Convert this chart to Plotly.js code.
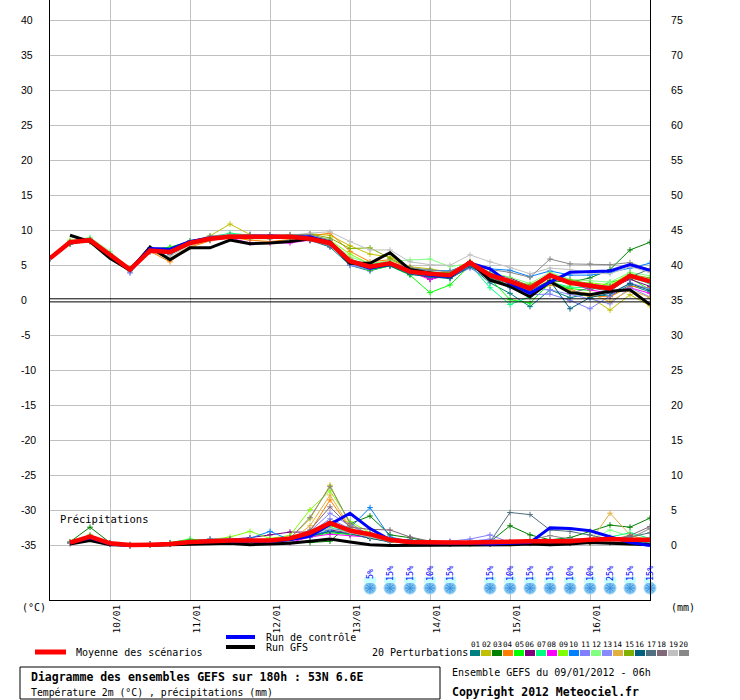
<!DOCTYPE html>
<html>
<head>
<meta charset="utf-8">
<script src="https://cdn.plot.ly/plotly-3.0.1.min.js"></script>
<style>html,body{margin:0;padding:0;background:#fff;}#chart{width:740px;height:700px;}</style>
</head>
<body>
<div id="chart"></div>
<script>
// ---- time axis: 6-hourly steps from 09/01/2012 06h (hours since start) ----
const hours = [0,6,12,18,24,30,36,42,48,54,60,66,72,78,84,90,96,102,108,114,120,126,132,138,144,150,156,162,168,174,180];
const dayTickHours = [18,42,66,90,114,138,162];
const dayTickLabels = ['10/01','11/01','12/01','13/01','14/01','15/01','16/01'];
const leftTicks = [40,35,30,25,20,15,10,5,0,-5,-10,-15,-20,-25,-30,-35];
const rightTicks = [0,5,10,15,20,25,30,35,40,45,50,55,60,65,70,75];

// ---- temperature 2m (°C) ----
const tempMean = [6.0,8.3,8.6,6.5,4.4,7.1,6.9,8.2,8.8,9.1,9.1,9.1,9.1,8.8,8.2,5.6,4.8,5.3,4.1,3.8,3.6,5.4,3.6,2.7,1.7,3.6,2.5,2.1,1.7,3.5,2.7];
const tempControl = [6.0,8.3,8.6,6.5,4.4,7.4,7.3,8.4,8.9,9.1,9.2,9.2,9.1,9.1,8.3,5.6,4.6,5.2,4.2,3.6,3.4,5.3,4.5,2.4,1.0,2.6,4.0,4.1,4.2,5.1,4.3];
const tempGFS = [null,9.3,8.4,6.0,4.3,7.6,5.8,7.5,7.5,8.6,8.1,8.2,8.4,8.8,8.3,5.3,5.3,6.8,4.4,3.9,3.4,5.5,2.9,2.0,0.5,2.7,1.1,0.8,1.3,1.5,-0.6];
const t01 = [6.0,8.0,8.5,6.6,4.3,7.2,6.8,8.3,8.7,9.0,9.2,9.0,9.3,8.6,7.6,5.0,4.2,5.0,3.8,3.3,3.2,4.9,2.5,1.0,-0.9,1.5,0.4,0.9,0.6,2.2,1.2];
const t02 = [6.0,8.4,8.7,6.4,4.5,7.0,7.0,8.3,9.2,10.9,9.4,9.2,9.0,9.5,9.3,7.8,6.6,6.2,4.8,4.5,4.0,5.6,3.8,2.9,1.2,3.0,1.3,0.5,-1.4,0.8,-0.8];
const t03 = [6.0,8.2,8.4,6.3,4.4,7.4,7.5,8.5,9.0,9.2,9.0,9.3,9.2,9.0,8.6,5.4,4.5,5.2,4.2,4.0,3.9,5.2,3.0,2.2,1.0,2.8,2.6,3.2,4.4,7.2,8.3];
const t04 = [6.0,8.3,8.5,6.4,4.3,7.0,5.5,7.6,8.5,9.0,8.6,8.4,8.7,9.2,9.6,7.0,5.5,5.8,4.6,3.8,3.4,5.0,3.2,2.0,0.8,2.2,1.6,0.6,0.5,2.0,1.8];
const t05 = [6.0,8.1,8.7,6.7,4.2,7.2,7.6,8.4,9.0,9.3,9.2,9.1,9.0,8.9,8.0,5.2,4.3,4.9,3.6,1.1,2.2,5.0,3.1,0.1,-0.4,2.5,1.7,1.4,2.6,3.2,1.5];
const t06 = [6.0,8.3,8.6,6.5,4.4,7.0,6.8,8.0,8.7,9.1,8.9,8.8,9.1,8.6,8.0,5.3,4.6,5.0,4.4,3.0,3.7,5.2,3.9,3.2,2.0,3.4,2.4,2.0,1.8,3.0,2.0];
const t07 = [6.0,8.2,8.9,6.6,4.5,7.3,7.2,8.4,9.0,9.6,9.3,9.2,9.0,9.0,8.4,5.9,5.0,5.4,4.3,4.1,3.8,5.1,1.8,-0.6,0.5,2.6,1.9,1.8,2.0,3.3,2.4];
const t08 = [6.0,8.2,8.6,6.4,4.4,7.0,6.9,8.2,8.6,8.9,8.2,8.2,8.2,8.6,7.8,5.5,4.4,5.1,4.0,3.0,3.6,5.5,3.6,2.5,1.8,3.4,2.6,1.5,1.0,1.8,1.0];
const t09 = [6.0,8.6,8.4,6.4,4.6,7.1,7.4,8.3,8.9,9.2,9.0,9.1,9.3,9.4,8.6,6.6,5.2,5.6,4.2,3.9,3.8,5.3,3.4,2.8,1.9,3.6,2.2,2.5,2.2,3.9,2.8];
const t10 = [6.0,8.3,8.5,6.4,4.4,7.1,7.0,8.1,8.8,9.1,9.4,9.0,9.1,8.8,8.2,5.7,4.9,5.2,4.5,4.3,4.2,5.3,4.5,4.3,3.4,4.2,3.6,3.6,4.0,4.6,5.3];
const t11 = [6.0,8.3,8.7,6.6,3.9,7.0,7.2,8.2,8.8,9.3,9.0,9.2,9.0,8.8,8.0,5.1,4.6,5.0,4.0,3.6,3.3,4.6,3.0,1.8,0.8,0.9,0.0,-1.2,0.6,2.5,1.6];
const t12 = [6.0,8.5,9.0,7.0,4.5,7.2,7.0,8.4,9.0,9.2,9.3,9.1,9.2,9.0,8.5,6.2,5.3,5.6,5.8,5.9,4.8,5.3,4.0,3.3,2.4,4.0,3.0,2.8,2.6,4.0,3.5];
const t13 = [6.0,8.2,8.6,6.5,4.0,7.1,6.8,8.1,8.6,9.0,9.2,9.0,9.1,8.7,8.1,5.0,4.4,5.1,3.9,3.6,3.3,5.0,3.0,2.0,1.6,1.5,0.9,0.2,-0.5,1.8,0.5];
const t14 = [6.0,8.3,8.4,6.4,4.4,6.9,6.0,7.8,8.6,9.0,8.8,8.8,9.0,9.0,8.4,6.0,4.6,5.1,4.2,3.8,3.5,5.2,3.3,2.1,0.9,2.6,1.3,1.0,-0.2,1.5,0.4];
const t15 = [6.0,8.4,8.6,6.4,4.4,7.1,7.0,8.3,8.9,9.2,9.0,9.1,9.2,9.5,8.9,7.4,7.5,6.0,4.6,4.0,3.9,5.2,3.7,2.9,2.2,3.7,2.9,2.4,1.6,3.7,3.2];
const t16 = [6.0,8.2,8.5,6.5,4.3,7.0,6.7,8.1,8.7,9.0,9.1,9.0,9.0,8.7,7.9,5.3,4.5,4.9,3.7,3.4,3.1,4.8,3.5,1.9,1.4,2.8,-1.2,0.4,1.0,2.4,1.4];
const t17 = [6.0,8.3,8.6,6.5,4.5,7.5,6.5,8.0,8.8,9.1,9.1,9.3,9.2,8.8,8.1,5.5,4.7,5.3,4.0,3.5,3.5,5.1,3.2,2.4,1.1,2.7,1.0,1.8,1.3,3.3,4.5];
const t18 = [6.0,8.1,8.5,6.6,4.3,7.4,6.6,8.0,8.9,9.0,9.2,9.1,9.0,8.5,7.8,5.3,4.6,5.2,4.2,3.7,3.6,5.4,3.8,2.8,1.8,3.3,2.4,2.3,2.0,3.6,2.6];
const t19 = [6.0,8.3,8.6,6.5,4.4,7.0,6.3,7.9,8.8,9.2,9.1,9.2,9.3,9.6,9.8,8.4,7.2,7.2,5.5,5.1,5.0,6.5,5.5,4.7,3.8,4.6,4.4,3.9,3.8,4.8,4.0];
const t20 = [6.0,8.2,8.7,6.6,4.3,7.4,7.0,8.4,9.2,9.4,9.4,9.3,9.4,9.4,8.6,5.8,5.1,5.4,4.7,4.3,4.1,5.5,4.4,4.0,3.3,5.9,5.2,5.2,5.1,5.4,4.4];

// ---- precipitation (mm, right axis) ----
const precMean = [null,0.4,1.25,0.3,0.05,0.1,0.2,0.5,0.65,0.7,0.7,0.7,1.0,1.8,3.2,2.1,1.6,0.8,0.5,0.4,0.4,0.4,0.5,0.5,0.6,0.6,0.6,0.8,0.9,0.8,0.8];
const precControl = [null,0.4,1.1,0.2,0,0.1,0.2,0.5,0.6,0.6,0.6,0.6,0.8,1.3,3.0,4.6,2.4,0.8,0.4,0.3,0.3,0.3,0.2,0.3,0.4,2.5,2.4,2.1,1.2,0.4,0.0];
const precGFS = [null,0.2,0.7,0.1,0,0,0.1,0.2,0.2,0.3,0.1,0.2,0.3,0.6,0.9,0.5,0.1,0,0,0,0,0,0,0.1,0.2,0.1,0.2,0.4,0.3,0.2,0.1];
const r01 = [null,0.3,1.0,0.2,0,0.1,0.2,0.4,0.5,0.6,0.5,0.6,0.8,1.2,2.0,1.6,1.0,0.5,0.3,0.2,0.3,0.2,0.3,0.4,0.5,0.3,0.4,0.8,0.6,0.4,0.3];
const r02 = [null,0.4,1.4,0.3,0,0.1,0.2,0.4,0.6,0.7,0.7,0.6,1.0,3.8,8.6,3.0,1.2,0.6,0.3,0.3,0.2,0.3,0.3,0.2,0.4,0.3,0.5,0.4,0.8,0.6,0.4];
const r03 = [null,0.5,2.6,0.4,0.1,0.2,0.3,0.6,0.9,0.9,0.8,0.7,0.5,0.4,0.6,3.1,4.2,1.5,1.1,0.5,0.4,0.4,0.5,2.8,1.5,0.8,1.1,2.0,2.9,2.6,3.9];
const r04 = [null,0.3,1.1,0.3,0,0.1,0.2,0.3,0.4,0.4,0.3,0.3,0.6,2.0,6.5,2.5,1.4,0.6,0.2,0.2,0.2,0.3,0.2,0.3,0.3,0.4,0.3,0.3,0.5,0.4,0.3];
const r05 = [null,0.4,1.3,0.3,0,0.1,0.4,0.9,0.6,0.7,0.8,0.6,0.9,1.2,1.8,1.5,1.3,0.8,0.5,0.4,0.5,0.4,0.3,0.4,0.4,0.5,0.4,0.6,0.7,0.8,0.7];
const r06 = [null,0.3,1.2,0.2,0,0.1,0.2,0.5,0.7,0.8,1.1,1.5,1.9,1.9,2.2,1.8,1.2,0.7,0.5,0.4,0.3,0.4,0.3,0.4,0.4,0.3,0.5,0.6,0.5,0.7,0.6];
const r07 = [null,0.4,1.3,0.3,0.1,0.1,0.2,0.5,0.6,0.7,0.6,0.7,1.0,1.4,2.5,1.9,1.6,0.9,0.4,0.4,0.3,0.3,0.4,0.5,0.6,0.5,0.7,0.8,1.2,1.8,1.0];
const r08 = [null,0.3,1.1,0.3,0,0.1,0.2,0.4,0.5,0.6,0.5,0.3,0.4,1.2,1.6,1.4,1.1,0.9,0.7,0.5,0.3,0.3,0.4,0.4,0.3,0.4,0.5,0.5,0.6,0.7,0.5];
const r09 = [null,0.4,1.2,0.3,0.1,0.1,0.3,0.6,0.8,1.2,2.0,1.0,1.4,5.1,7.8,3.4,1.8,0.8,0.6,0.5,0.4,0.3,0.3,0.5,0.6,0.4,0.6,0.5,0.7,0.8,0.6];
const r10 = [null,0.3,1.2,0.3,0,0.2,0.3,0.5,0.7,0.9,1.0,2.0,0.8,1.3,2.2,2.5,5.4,1.2,0.6,0.4,0.3,0.4,0.3,0.4,0.5,0.6,0.5,0.6,0.9,0.8,0.7];
const r11 = [null,0.3,1.1,0.2,0,0.1,0.3,0.5,0.8,0.9,0.8,0.6,0.9,2.0,4.6,2.8,1.6,0.9,0.5,0.4,0.6,0.9,1.5,0.4,0.5,0.8,0.7,0.9,0.7,0.8,1.0];
const r12 = [null,0.4,1.3,0.3,0.1,0.1,0.2,0.4,0.5,0.6,0.6,0.5,0.8,1.5,3.0,2.2,1.3,0.7,0.4,0.3,0.4,0.3,0.3,0.4,0.4,0.5,0.6,0.8,2.2,1.3,0.9];
const r13 = [null,0.3,1.2,0.3,0,0.1,0.3,0.6,0.9,0.9,0.7,0.6,1.0,1.8,3.8,2.4,1.4,0.8,0.5,0.4,0.5,0.6,0.9,0.4,0.3,0.6,0.5,0.7,0.8,0.6,0.8];
const r14 = [null,0.4,1.1,0.2,0,0.1,0.1,0.3,0.4,0.5,0.3,0.3,0.6,2.8,7.2,2.6,1.1,0.5,0.3,0.2,0.2,0.3,0.3,0.3,0.3,0.4,0.3,0.5,4.6,1.5,0.6];
const r15 = [null,0.4,1.5,0.3,0,0.1,0.2,0.4,0.6,0.7,0.6,0.6,0.9,1.6,2.8,2.0,1.2,0.7,0.4,0.3,0.3,0.3,0.4,0.4,0.5,0.6,0.5,0.7,0.6,0.9,0.7];
const r16 = [null,0.3,1.1,0.2,0,0.1,0.2,0.4,0.5,0.6,0.5,0.5,0.7,1.4,2.0,1.7,1.0,0.5,0.8,0.4,0.2,0.3,0.2,0.3,0.4,0.3,0.3,0.4,0.4,0.5,0.4];
const r17 = [null,0.4,1.2,0.3,0,0.1,0.2,0.5,0.6,0.7,0.7,0.6,1.1,1.9,3.4,2.3,1.5,0.9,0.5,0.3,0.3,0.4,0.5,4.7,4.4,2.2,2.0,1.5,0.9,1.2,1.8];
const r18 = [null,0.4,1.2,0.3,0.1,0.1,0.3,0.5,0.7,0.8,0.7,0.7,1.0,2.2,5.5,2.6,2.3,2.2,1.2,0.6,0.4,0.4,0.4,0.5,0.6,0.7,0.8,1.0,0.8,1.4,2.7];
const r19 = [null,0.3,1.1,0.2,0,0.1,0.2,0.4,0.5,0.6,0.6,0.5,0.8,1.4,2.4,1.8,1.2,0.6,0.4,0.3,0.3,0.3,0.3,0.4,0.5,0.4,0.5,0.6,0.5,0.6,0.5];
const r20 = [null,0.3,1.2,0.3,0,0.1,0.2,0.5,0.6,0.7,0.7,0.6,1.0,4.0,8.4,3.2,1.4,0.7,0.4,0.3,0.3,0.3,0.3,0.4,0.8,1.4,0.9,0.8,0.7,1.0,2.4];

// ---- snow probability ----
const snowHours = [96,102,108,114,120,132,138,144,150,156,162,168,174,180];
const snowPct = [5,15,15,10,15,15,10,15,15,10,10,25,15,15];

const pertNames = ['01','02','03','04','05','06','07','08','09','10','11','12','13','14','15','16','17','18','19','20'];
const pertColors = ['#008080','#C0C000','#008000','#FF8000','#00FF00','#800080','#00FF80','#FF00FF','#80FF00','#0080FF','#8080FF','#80FF80','#8888FF','#E0B040','#80B000','#006080','#507080','#806878','#C0C0C0','#888888'];
const tempPert = [t01,t02,t03,t04,t05,t06,t07,t08,t09,t10,t11,t12,t13,t14,t15,t16,t17,t18,t19,t20];
const precPert = [r01,r02,r03,r04,r05,r06,r07,r08,r09,r10,r11,r12,r13,r14,r15,r16,r17,r18,r19,r20];

// pixel helpers (plot area 50..650 x 0..600)
const px = x => (x - 50) / 600;
const py = y => (600 - y) / 600;
const MONO = 'DejaVu Sans Mono';

const traces = [];
tempPert.forEach((arr, i) => {
  traces.push({x: hours, y: arr, type: 'scatter', mode: 'lines+markers', yaxis: 'y',
    line: {color: pertColors[i], width: 1},
    marker: {symbol: 'cross-thin-open', size: 4, color: pertColors[i], line: {color: pertColors[i], width: 1}},
    hoverinfo: 'skip', name: 'P' + pertNames[i]});
});
precPert.forEach((arr, i) => {
  traces.push({x: hours, y: arr, type: 'scatter', mode: 'lines+markers', yaxis: 'y2',
    line: {color: pertColors[i], width: 1},
    marker: {symbol: 'cross-thin-open', size: 4, color: pertColors[i], line: {color: pertColors[i], width: 1}},
    hoverinfo: 'skip', name: 'R' + pertNames[i]});
});
[[tempGFS, precGFS, '#000000', 3], [tempControl, precControl, '#0000FF', 3], [tempMean, precMean, '#FF0000', 4.5]].forEach(s => {
  traces.push({x: hours, y: s[0], type: 'scatter', mode: 'lines', yaxis: 'y', line: {color: s[2], width: s[3]}, hoverinfo: 'skip'});
  traces.push({x: hours, y: s[1], type: 'scatter', mode: 'lines', yaxis: 'y2', line: {color: s[2], width: s[3]}, hoverinfo: 'skip'});
});
// snow icons
const snowY = snowHours.map(() => -41.1);
traces.push({x: snowHours, y: snowY, type: 'scatter', mode: 'markers', yaxis: 'y', cliponaxis: false,
  marker: {symbol: 'circle', size: 12, color: '#7CC4F0', line: {color: '#9BD3F5', width: 1}}, hoverinfo: 'skip'});
traces.push({x: snowHours, y: snowY, type: 'scatter', mode: 'markers', yaxis: 'y', cliponaxis: false,
  marker: {symbol: 'asterisk-open', size: 8, color: '#3C8EE0', line: {color: '#3C8EE0', width: 1}}, hoverinfo: 'skip'});

const shapes = [
  {type: 'line', xref: 'paper', x0: 0, x1: 1, yref: 'y', y0: 0.22, y1: 0.22, line: {color: '#000', width: 1}},
  {type: 'line', xref: 'paper', x0: 0, x1: 1, yref: 'y', y0: -0.22, y1: -0.22, line: {color: '#000', width: 1}},
  // legend lines
  {type: 'line', xref: 'paper', yref: 'paper', x0: px(35), x1: px(66), y0: py(652), y1: py(652), line: {color: '#FF0000', width: 5}},
  {type: 'line', xref: 'paper', yref: 'paper', x0: px(226), x1: px(255), y0: py(637), y1: py(637), line: {color: '#0000FF', width: 4}},
  {type: 'line', xref: 'paper', yref: 'paper', x0: px(226), x1: px(255), y0: py(647), y1: py(647), line: {color: '#000000', width: 4}},
  // title box
  {type: 'rect', xref: 'paper', yref: 'paper', x0: px(20), x1: px(440), y0: py(667), y1: py(699), line: {color: '#000', width: 1}}
];
pertColors.forEach((c, i) => {
  const x0 = 470 + 11 * i;
  shapes.push({type: 'rect', xref: 'paper', yref: 'paper', x0: px(x0), x1: px(x0 + 10), y0: py(656), y1: py(650), line: {width: 0}, fillcolor: c});
});
snowHours.forEach(h => {
  shapes.push({type: 'rect', xref: 'x', yref: 'paper', x0: h - 1.8, x1: h + 1.8, y0: py(583), y1: py(577), line: {width: 0}, fillcolor: '#C8FFFF'});
});

const ann = [];
const addText = (x, y, text, size, opts) => ann.push(Object.assign({xref: 'paper', yref: 'paper', x: px(x), y: py(y), text: text, showarrow: false,
  xanchor: 'left', yanchor: 'middle', font: {family: MONO, size: size, color: '#000'}}, opts || {}));
leftTicks.forEach(v => ann.push({xref: 'paper', yref: 'y', x: px(19), y: v, text: String(v), showarrow: false, xanchor: 'left', yanchor: 'middle',
  font: {family: 'Liberation Sans', size: 10.5, color: '#000'}}));
addText(20, 607, '(°C)', 10);
addText(669, 607, '(mm)', 10);
addText(58, 519, 'Précipitations', 10.5);
addText(74, 652, 'Moyenne des scénarios', 10);
addText(264, 637, 'Run de contrôle', 10);
addText(264, 647, 'Run GFS', 10);
addText(370, 652, '20 Perturbations', 10);
pertNames.forEach((n, i) => addText(470 + 11 * i + 5, 644, n, 7.5, {xanchor: 'center'}));
addText(29, 677, '<b>Diagramme des ensembles GEFS sur 180h : 53N 6.6E</b>', 11.5);
addText(29, 692, 'Température 2m (°C) , précipitations (mm)', 9.8);
addText(450, 672, 'Ensemble GEFS du 09/01/2012 - 06h', 10);
addText(450, 692, '<b>Copyright 2012 Meteociel.fr</b>', 11.5);
snowHours.forEach((h, i) => ann.push({xref: 'x', yref: 'paper', x: h, y: py(574), text: snowPct[i] + '%', textangle: -90, showarrow: false,
  xanchor: 'center', yanchor: 'middle', font: {family: MONO, size: 8.5, color: '#0000FF'}}));

const gridVals = leftTicks.filter(v => v !== 0);
const layout = {
  width: 740, height: 700,
  margin: {l: 50, r: 90, t: 0, b: 100, pad: 0},
  paper_bgcolor: '#fff', plot_bgcolor: '#fff',
  showlegend: false,
  xaxis: {type: 'linear', range: [0, 180], tickmode: 'array', tickvals: dayTickHours, ticktext: dayTickLabels,
    tickangle: -90, ticklabelshift: 7, ticks: '', showgrid: true, gridcolor: '#C0C0C0', gridwidth: 1,
    showline: true, linecolor: '#000', linewidth: 1, zeroline: false, fixedrange: true,
    tickfont: {family: MONO, size: 9.5, color: '#000'}},
  yaxis: {range: [-42.8, 42.9], tickmode: 'array', tickvals: gridVals, showticklabels: false, ticks: '',
    showgrid: true, gridcolor: '#C0C0C0', gridwidth: 1, showline: true, linecolor: '#000', linewidth: 1, zeroline: false},
  yaxis2: {range: [-7.8, 77.9], overlaying: 'y', side: 'right', tickmode: 'array', tickvals: rightTicks, ticks: '',
    ticklabelstandoff: 18, showgrid: false, showline: true, linecolor: '#000', linewidth: 1, zeroline: false,
    tickfont: {family: 'Liberation Sans', size: 10.5, color: '#000'}},
  shapes: shapes,
  annotations: ann
};
Plotly.newPlot('chart', traces, layout, {staticPlot: true, displayModeBar: false});
</script>
</body>
</html>
